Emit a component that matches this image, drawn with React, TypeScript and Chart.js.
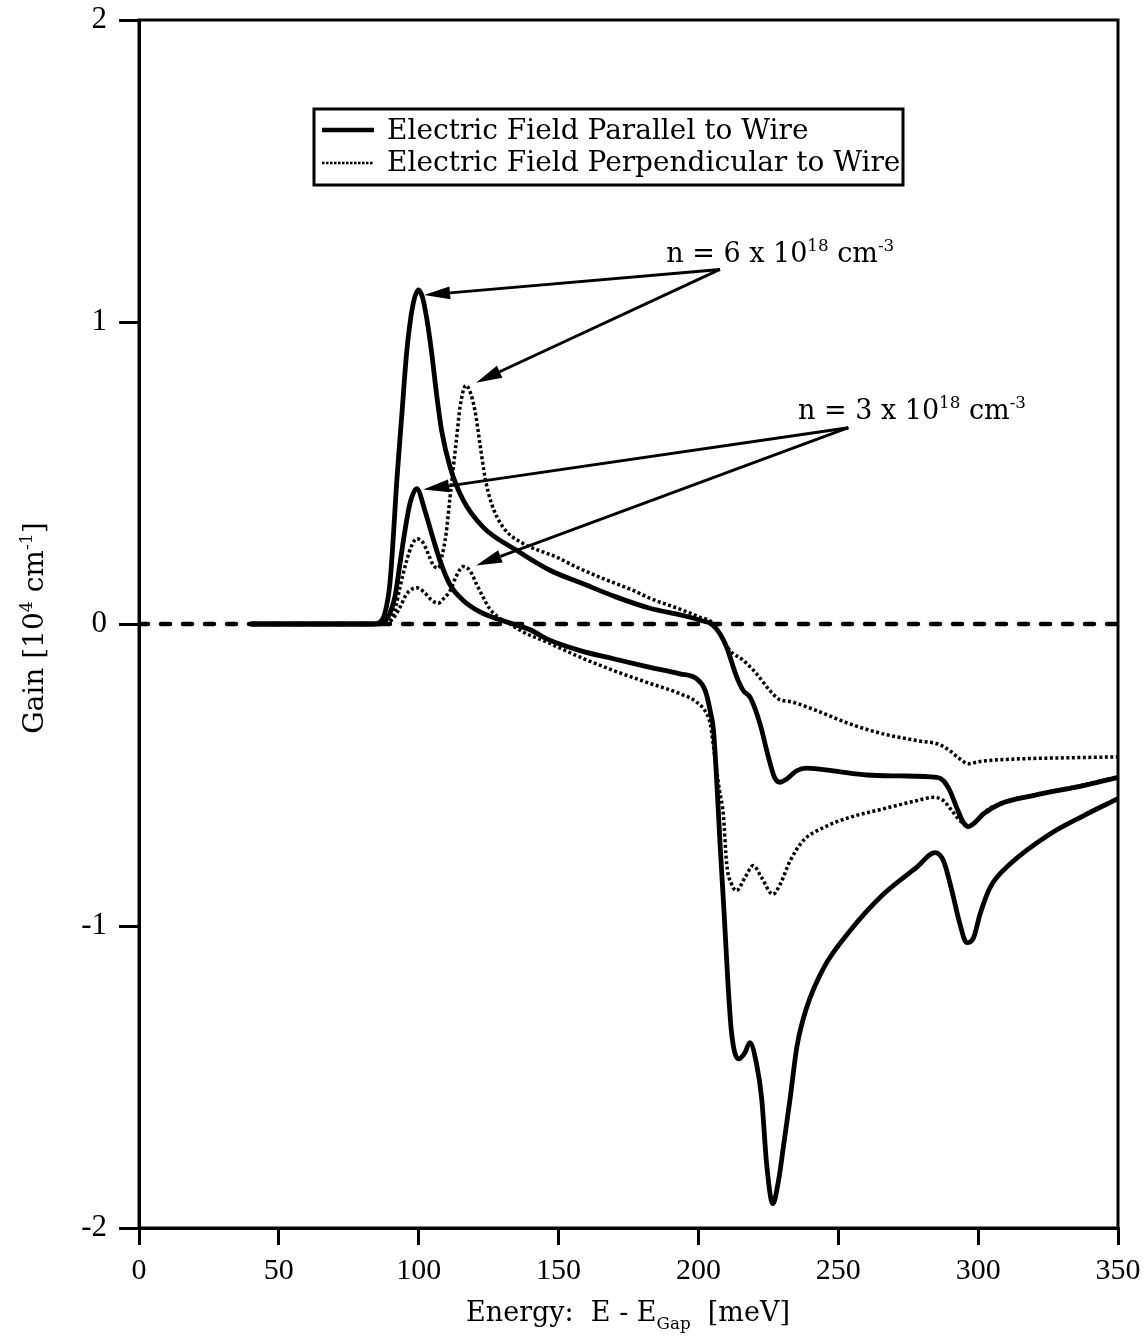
import React, { useEffect, useRef } from "react";
import { Chart, registerables } from "chart.js";

Chart.register(...registerables);

// ---------- axes ----------
const xMin = 0;
const xMax = 350;
const xStep = 50;
const yMin = -2;
const yMax = 2;
const yStep = 1;

// ---------- legend ----------
const legendLabels = ["Electric Field Parallel to Wire", "Electric Field Perpendicular to Wire"];

// ---------- data: parallel field, n = 6e18 (solid) ----------
const parHighE = [40, 84, 86, 87.9, 89.7, 91, 92.1, 93.9, 95.7, 97.8, 99.9, 101.4, 102.9, 104.6, 106.4, 108.2, 111.2, 115.9, 123.1, 135, 146.9, 158.8, 170.7, 182.7, 194.5, 201.6, 204.7, 207.7, 210.1, 213.7, 216, 218.5, 222, 225, 227.3, 229.1, 231.6, 235.1, 238.7, 248.2, 260.2, 272.1, 285.2, 287.6, 289.9, 292.3, 294.7, 296.5, 298.9, 301.9, 307.8, 319.7, 337.6, 350];
const parHighG = [0, 0, 0.005, 0.035, 0.134, 0.3, 0.466, 0.685, 0.9, 1.05, 1.106, 1.08, 1.01, 0.9, 0.76, 0.64, 0.52, 0.41, 0.32, 0.244, 0.178, 0.133, 0.089, 0.052, 0.028, 0.01, 0, -0.032, -0.077, -0.176, -0.22, -0.243, -0.33, -0.44, -0.51, -0.524, -0.513, -0.486, -0.477, -0.486, -0.5, -0.503, -0.508, -0.519, -0.552, -0.607, -0.657, -0.671, -0.657, -0.629, -0.596, -0.568, -0.535, -0.508];

// ---------- data: parallel field, n = 3e18 (solid) ----------
const parLowE = [40, 86, 88, 89.7, 91.5, 93.3, 95.1, 96.9, 99.3, 102.2, 104.6, 107.6, 111.2, 115.9, 121.9, 127.9, 133.8, 140, 146, 157.7, 169.6, 181.5, 193.4, 199.4, 202.4, 204.2, 205.4, 206.6, 207.8, 209.2, 210.5, 211.8, 214.3, 216.6, 218.4, 220.8, 222.6, 224.4, 226.6, 228.6, 230.4, 232.8, 235.2, 238.7, 244.7, 254.2, 266.1, 278, 284.6, 287.6, 290.6, 293.5, 295.9, 298.3, 300.7, 304.3, 311.4, 325.7, 337.6, 350];
const parLowG = [0, 0, 0.01, 0.035, 0.09, 0.2, 0.31, 0.4, 0.448, 0.376, 0.3, 0.21, 0.13, 0.078, 0.04, 0.017, 0, -0.02, -0.05, -0.088, -0.115, -0.141, -0.165, -0.182, -0.22, -0.287, -0.353, -0.53, -0.74, -0.96, -1.18, -1.35, -1.44, -1.42, -1.386, -1.458, -1.57, -1.79, -1.92, -1.845, -1.73, -1.57, -1.4, -1.27, -1.14, -1.016, -0.895, -0.806, -0.757, -0.784, -0.883, -0.994, -1.055, -1.04, -0.96, -0.872, -0.795, -0.695, -0.635, -0.578];

// ---------- data: perpendicular field, n = 6e18 (dotted) ----------
const perHighE = [84, 88, 89.7, 91.5, 93.3, 95.7, 97.5, 99.3, 101.5, 103.5, 105.2, 107, 108.2, 109.8, 111.2, 112.4, 113.6, 114.8, 116.9, 118.5, 120.1, 121.9, 123.7, 126.1, 130.2, 137.4, 144.6, 149.4, 156.5, 166, 176.7, 182.7, 194.6, 200.6, 204.7, 208.3, 211.3, 216, 220.8, 225.5, 228.6, 233.9, 242.3, 254.2, 266.1, 278, 286.4, 289.9, 293.5, 296.5, 300.7, 313.8, 331.7, 350];
const perHighG = [0, 0.003, 0.01, 0.045, 0.122, 0.21, 0.26, 0.282, 0.27, 0.23, 0.195, 0.185, 0.22, 0.3, 0.42, 0.52, 0.62, 0.72, 0.79, 0.765, 0.707, 0.596, 0.486, 0.397, 0.32, 0.266, 0.238, 0.221, 0.188, 0.15, 0.111, 0.085, 0.045, 0.022, 0.006, -0.044, -0.088, -0.12, -0.165, -0.22, -0.248, -0.259, -0.287, -0.331, -0.364, -0.386, -0.4, -0.42, -0.447, -0.463, -0.455, -0.447, -0.443, -0.44];

// ---------- data: perpendicular field, n = 3e18 (dotted) ----------
const perLowE = [84, 89, 91, 93.3, 95.7, 99.3, 102, 104.5, 107, 109, 111.2, 113.5, 115.9, 118.3, 120.6, 123, 125.4, 128.5, 132.6, 138, 144.6, 157.7, 169.6, 181.5, 193.4, 199.4, 203, 204.2, 206, 207.5, 208.9, 210.1, 211.8, 213.6, 216.6, 219.6, 222.6, 226.6, 229.2, 232.8, 237.5, 244.7, 254.2, 266.1, 278, 284, 287.6, 290.6, 293.5, 296.5, 299, 302, 308, 320, 337.6, 350];
const perLowG = [0, 0.005, 0.02, 0.055, 0.1, 0.12, 0.105, 0.08, 0.069, 0.085, 0.11, 0.16, 0.19, 0.177, 0.133, 0.089, 0.05, 0.022, 0, -0.03, -0.055, -0.11, -0.154, -0.193, -0.231, -0.259, -0.298, -0.33, -0.45, -0.55, -0.63, -0.795, -0.86, -0.883, -0.84, -0.8, -0.84, -0.895, -0.862, -0.784, -0.717, -0.674, -0.64, -0.612, -0.585, -0.574, -0.585, -0.618, -0.651, -0.668, -0.655, -0.625, -0.594, -0.566, -0.533, -0.506];

// ---------- zero reference line ----------
const zeroE = [0, 350];
const zeroG = [0, 0];

// ---------- annotations (data coordinates) ----------
type Part = { t: string; s?: "sup" | "sub" };
const noteHighParts: Part[] = [{ t: "n = 6 x 10" }, { t: "18", s: "sup" }, { t: " cm" }, { t: "-3", s: "sup" }];
const noteHighAt = [188.5, 1.2];
const noteHighFrom = [207.7, 1.174];
const noteHighTips = [[101.9, 1.089], [120.5, 0.799]];
const noteLowParts: Part[] = [{ t: "n = 3 x 10" }, { t: "18", s: "sup" }, { t: " cm" }, { t: "-3", s: "sup" }];
const noteLowAt = [235.6, 0.68];
const noteLowFrom = [253.6, 0.65];
const noteLowTips = [[101.6, 0.445], [120.5, 0.194]];

const xTitleParts: Part[] = [{ t: "Energy:  E - E" }, { t: "Gap", s: "sub" }, { t: "  [meV]" }];
const yTitleParts: Part[] = [{ t: "Gain [10" }, { t: "4", s: "sup" }, { t: " cm" }, { t: "-1", s: "sup" }, { t: "]" }];

const SERIF = "'DejaVu Serif', serif";
const TICK_FONT = "'Liberation Serif', serif";

const pts = (xs: number[], ys: number[]) => xs.map((x, i) => ({ x, y: ys[i] }));

function richWidth(ctx: CanvasRenderingContext2D, parts: Part[], size: number, family: string) {
  let w = 0;
  for (const p of parts) {
    const s = p.s ? size * 0.62 : size;
    ctx.font = `${s}px ${family}`;
    w += ctx.measureText(p.t).width;
  }
  return w;
}

function drawRich(ctx: CanvasRenderingContext2D, parts: Part[], x: number, y: number, size: number, family: string) {
  let cx = x;
  ctx.textAlign = "left";
  ctx.textBaseline = "alphabetic";
  for (const p of parts) {
    const s = p.s ? size * 0.62 : size;
    ctx.font = `${s}px ${family}`;
    const dy = p.s === "sup" ? -size * 0.4 : p.s === "sub" ? size * 0.28 : 0;
    ctx.fillText(p.t, cx, y + dy);
    cx += ctx.measureText(p.t).width;
  }
}

function arrow(ctx: CanvasRenderingContext2D, x0: number, y0: number, x1: number, y1: number) {
  const a = Math.atan2(y1 - y0, x1 - x0);
  const L = 26;
  const W = 6.5;
  const bx = x1 - L * Math.cos(a);
  const by = y1 - L * Math.sin(a);
  ctx.beginPath();
  ctx.moveTo(x0, y0);
  ctx.lineTo(bx, by);
  ctx.stroke();
  ctx.beginPath();
  ctx.moveTo(x1, y1);
  ctx.lineTo(bx - W * Math.sin(a), by + W * Math.cos(a));
  ctx.lineTo(bx + W * Math.sin(a), by - W * Math.cos(a));
  ctx.closePath();
  ctx.fill();
}

const decorPlugin = {
  id: "decor",
  afterDraw(chart: any) {
    const { ctx, chartArea: ca, scales } = chart;
    const xs = scales.x;
    const ys = scales.y;
    ctx.save();
    ctx.fillStyle = "#000";
    ctx.strokeStyle = "#000";

    // frame
    ctx.lineWidth = 3;
    ctx.strokeRect(ca.left, ca.top, ca.right - ca.left, ca.bottom - ca.top);

    // legend box
    const lx = ca.left + 175;
    const ly = ca.top + 89;
    ctx.lineWidth = 3;
    ctx.fillStyle = "#fff";
    ctx.fillRect(lx, ly, 589, 76);
    ctx.strokeRect(lx, ly, 589, 76);
    ctx.fillStyle = "#000";
    ctx.lineWidth = 4.5;
    ctx.beginPath();
    ctx.moveTo(lx + 8, ly + 21);
    ctx.lineTo(lx + 60, ly + 21);
    ctx.stroke();
    ctx.lineWidth = 2.5;
    ctx.setLineDash([2.5, 1.5]);
    ctx.beginPath();
    ctx.moveTo(lx + 8, ly + 54);
    ctx.lineTo(lx + 60, ly + 54);
    ctx.stroke();
    ctx.setLineDash([]);
    ctx.font = `28px ${SERIF}`;
    ctx.textAlign = "left";
    ctx.textBaseline = "alphabetic";
    ctx.fillText(legendLabels[0], lx + 73, ly + 30);
    ctx.fillText(legendLabels[1], lx + 73, ly + 62);

    // annotations with arrows
    const notes = [
      { parts: noteHighParts, at: noteHighAt, from: noteHighFrom, tips: noteHighTips },
      { parts: noteLowParts, at: noteLowAt, from: noteLowFrom, tips: noteLowTips },
    ];
    ctx.lineWidth = 3;
    for (const n of notes) {
      drawRich(ctx, n.parts, xs.getPixelForValue(n.at[0]), ys.getPixelForValue(n.at[1]), 27, SERIF);
      const fx = xs.getPixelForValue(n.from[0]);
      const fy = ys.getPixelForValue(n.from[1]);
      for (const t of n.tips) {
        arrow(ctx, fx, fy, xs.getPixelForValue(t[0]), ys.getPixelForValue(t[1]));
      }
    }

    // x title
    const xw = richWidth(ctx, xTitleParts, 27, SERIF);
    drawRich(ctx, xTitleParts, 628 - xw / 2, ca.bottom + 93, 27, SERIF);

    // y title (rotated)
    const yw = richWidth(ctx, yTitleParts, 28, SERIF);
    ctx.translate(33, 628);
    ctx.rotate(-Math.PI / 2);
    drawRich(ctx, yTitleParts, -yw / 2, 10, 28, SERIF);
    ctx.restore();
  },
};

export default function App() {
  const ref = useRef<HTMLCanvasElement | null>(null);
  useEffect(() => {
    if (!ref.current) return;
    const solid = { borderColor: "#000", borderWidth: 4.8, pointRadius: 0, cubicInterpolationMode: "monotone" as const, fill: false };
    const dotted = { borderColor: "#000", borderWidth: 3.5, borderDash: [3, 2.5], pointRadius: 0, cubicInterpolationMode: "monotone" as const, fill: false };
    const chart = new Chart(ref.current, {
      type: "line",
      data: {
        datasets: [
          { label: legendLabels[0] + " (n = 6e18)", data: pts(parHighE, parHighG), ...solid },
          { label: legendLabels[0] + " (n = 3e18)", data: pts(parLowE, parLowG), ...solid },
          { label: legendLabels[1] + " (n = 6e18)", data: pts(perHighE, perHighG), ...dotted },
          { label: legendLabels[1] + " (n = 3e18)", data: pts(perLowE, perLowG), ...dotted },
          { label: "zero", data: pts(zeroE, zeroG), borderColor: "#000", borderWidth: 4.5, borderDash: [9, 13], borderCapStyle: "round", pointRadius: 0, fill: false },
        ],
      },
      options: {
        responsive: false,
        animation: false,
        devicePixelRatio: 1,
        layout: { padding: { top: 20, right: 25, left: 0, bottom: 0 }, autoPadding: false },
        plugins: { legend: { display: false }, tooltip: { enabled: false } },
        scales: {
          x: {
            type: "linear",
            min: xMin,
            max: xMax,
            ticks: { stepSize: xStep, color: "#000", font: { family: TICK_FONT, size: 30 }, padding: 8, maxRotation: 0 },
            grid: { drawOnChartArea: false, color: "#000", lineWidth: 3, tickLength: 17 },
            border: { color: "#000", width: 3 },
            afterFit: (s: any) => { s.height = 108; s.paddingLeft = 0; s.paddingRight = 0; },
          },
          y: {
            type: "linear",
            min: yMin,
            max: yMax,
            ticks: { stepSize: yStep, color: "#000", font: { family: TICK_FONT, size: 31 }, padding: 12 },
            grid: { drawOnChartArea: false, color: "#000", lineWidth: 3, tickLength: 20 },
            border: { color: "#000", width: 3 },
            afterFit: (s: any) => { s.width = 139; s.paddingTop = 0; s.paddingBottom = 0; },
          },
        },
      } as any,
      plugins: [decorPlugin],
    });
    return () => chart.destroy();
  }, []);
  return (
    <div style={{ position: "absolute", left: 0, top: 0, width: 1143, height: 1336, background: "#fff" }}>
      <canvas ref={ref} width={1143} height={1336} style={{ display: "block" }} />
    </div>
  );
}
